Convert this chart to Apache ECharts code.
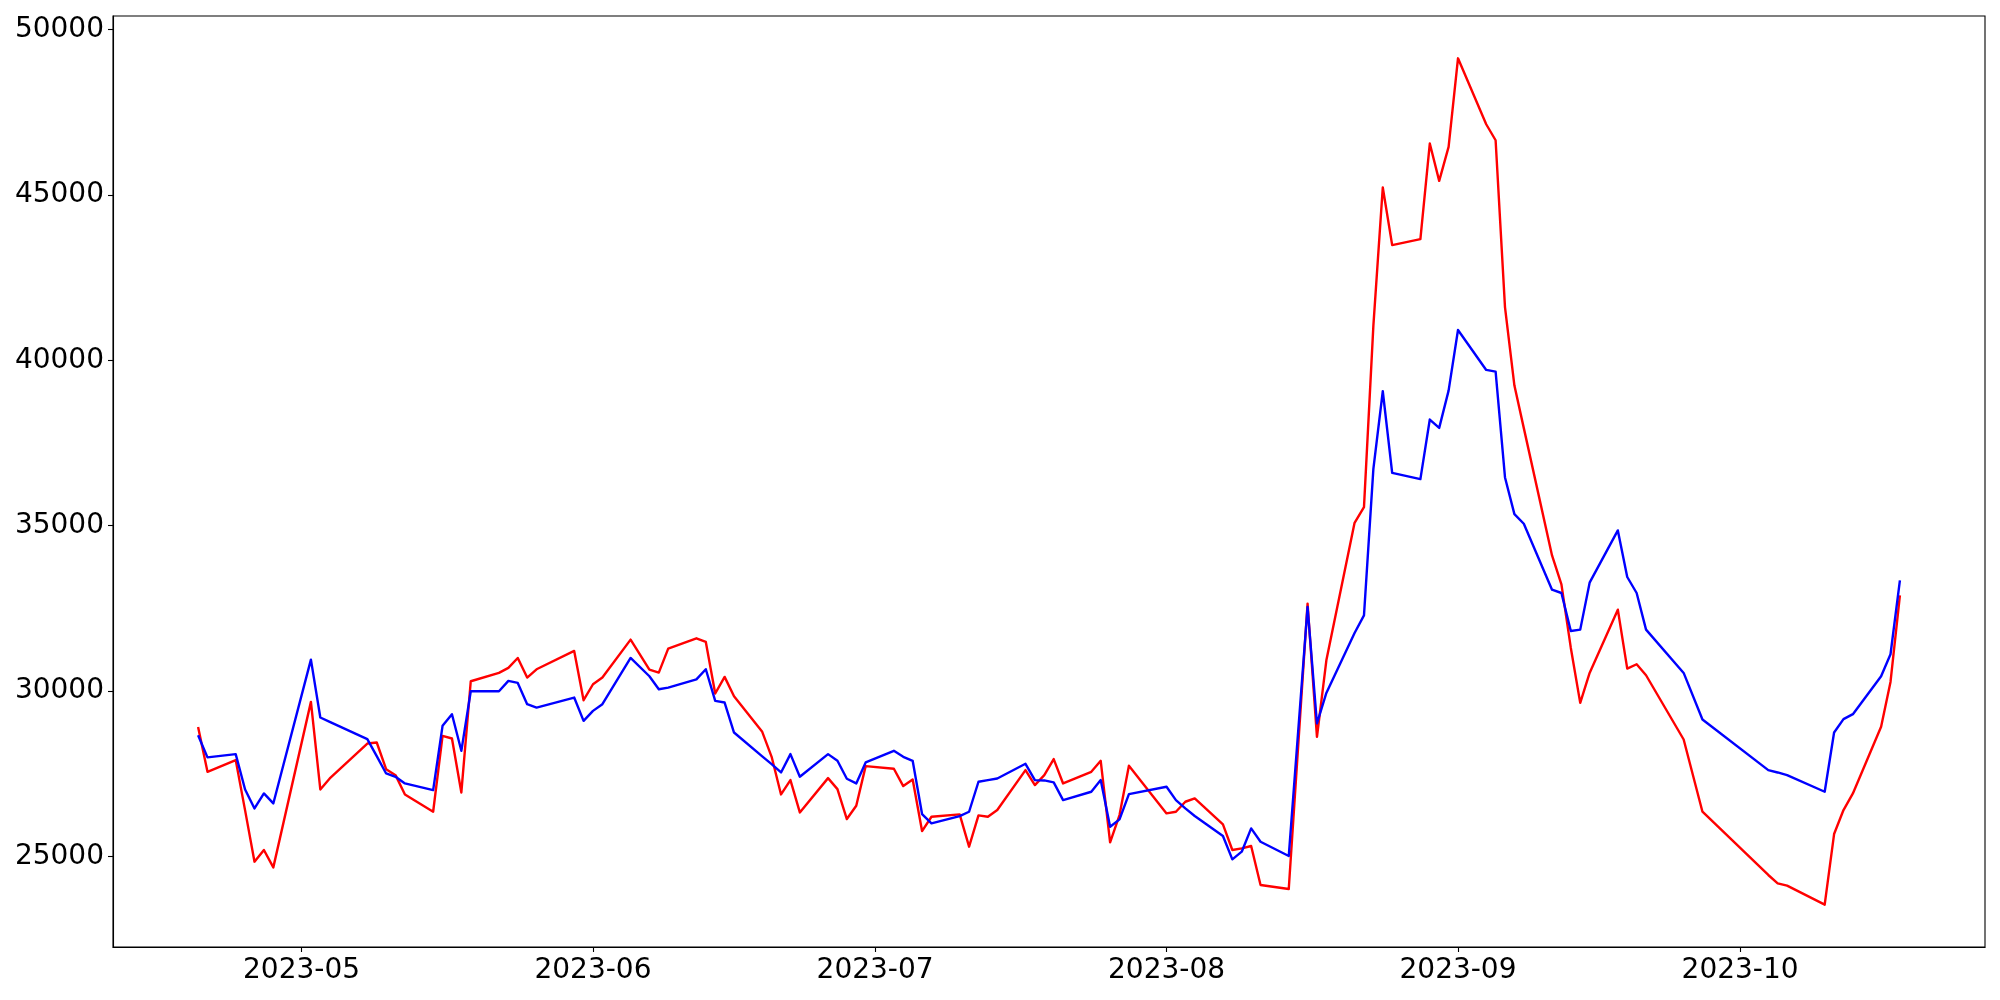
<!DOCTYPE html>
<html>
<head>
<meta charset="utf-8">
<script src="https://cdn.jsdelivr.net/npm/echarts@6/dist/echarts.min.js"></script>
<style>
html,body{margin:0;padding:0;background:#fff;}
#chart{width:2000px;height:1000px;}
</style>
</head>
<body>
<div id="chart"></div>
<script>
const dates = [
'2023-04-20','2023-04-21','2023-04-24','2023-04-25','2023-04-26','2023-04-27','2023-04-28',
'2023-05-02','2023-05-03','2023-05-04','2023-05-08','2023-05-09','2023-05-10','2023-05-11','2023-05-12',
'2023-05-15','2023-05-16','2023-05-17','2023-05-18','2023-05-19','2023-05-22','2023-05-23','2023-05-24',
'2023-05-25','2023-05-26','2023-05-30','2023-05-31',
'2023-06-01','2023-06-02','2023-06-05','2023-06-07','2023-06-08','2023-06-09','2023-06-12','2023-06-13',
'2023-06-14','2023-06-15','2023-06-16','2023-06-19','2023-06-20','2023-06-21','2023-06-22','2023-06-23',
'2023-06-26','2023-06-27','2023-06-28','2023-06-29','2023-06-30',
'2023-07-03','2023-07-04','2023-07-05','2023-07-06','2023-07-07','2023-07-10','2023-07-11','2023-07-12',
'2023-07-13','2023-07-14','2023-07-17','2023-07-18','2023-07-19','2023-07-20','2023-07-21','2023-07-24',
'2023-07-25','2023-07-26','2023-07-27','2023-07-28',
'2023-08-01','2023-08-02','2023-08-03','2023-08-04','2023-08-07','2023-08-08','2023-08-09','2023-08-10',
'2023-08-11','2023-08-14','2023-08-16','2023-08-17','2023-08-18','2023-08-21','2023-08-22','2023-08-23',
'2023-08-24','2023-08-25','2023-08-28','2023-08-29','2023-08-30','2023-08-31',
'2023-09-01','2023-09-04','2023-09-05','2023-09-06','2023-09-07','2023-09-08','2023-09-11','2023-09-12',
'2023-09-13','2023-09-14','2023-09-15','2023-09-18','2023-09-19','2023-09-20','2023-09-21','2023-09-25',
'2023-09-27',
'2023-10-04','2023-10-05','2023-10-06','2023-10-10','2023-10-11','2023-10-12','2023-10-13','2023-10-16',
'2023-10-17','2023-10-18'
];

const redValues = [
28920,27565,27917,26400,24849,25201,24677,
29678,27032,27364,28420,28450,27645,27464,26881,
26358,28651,28571,26941,30301,30553,30704,31005,
30412,30663,31217,29728,
30211,30412,31559,30654,30563,31287,31600,31489,
29930,30433,29849,28773,28018,26881,27314,26338,
27374,27042,26137,26539,27737,
27656,27133,27334,25775,26207,26278,25302,26248,
26207,26409,27616,27163,27465,27948,27213,27566,
27897,25433,26258,27747,
26308,26358,26660,26761,25976,25201,25252,25322,
24145,24024,32646,28622,30935,35090,35563,41046,
45221,43480,43661,46549,45422,46448,
49124,47132,46649,41599,39235,37950,34104,33229,
31308,29648,30553,32465,30684,30815,30483,28541,
26359,
24447,24195,24125,23550,25684,26409,26912,28924,
30282,32897
];

const blueValues = [
28670,28000,28098,27032,26458,26911,26609,
30955,29205,29074,28551,28038,27515,27414,27213,
27012,28953,29305,28199,29999,29999,30311,30251,
29607,29506,29808,29104,
29406,29607,31005,30452,30060,30110,30357,30664,
29708,29658,28752,28033,27797,27545,28099,27415,
28099,27897,27354,27213,27847,
28199,28018,27897,26288,26006,26228,26358,27264,
27314,27364,27807,27314,27304,27244,26710,26962,
27314,25906,26127,26891,
27113,26710,26459,26228,25624,24919,25151,25855,
25453,25020,32545,29024,29949,31760,32293,36720,
39064,36599,36408,38209,37957,39084,
40915,39708,39657,36460,35350,35060,33068,32968,
31821,31861,33280,34859,33451,32968,31861,30553,
29145,
27616,27545,27465,26962,28753,29155,29306,30453,
31117,33350
];

const yTickValues = [25000, 30000, 35000, 40000, 45000, 50000];
const xTickLabels = ['2023-05','2023-06','2023-07','2023-08','2023-09','2023-10'];

function toTime(s) {
  const p = s.split('-').map(Number);
  return Date.UTC(p[0], p[1] - 1, p[2] || 1);
}
const xTickValues = xTickLabels.map(toTime);

const redData = dates.map((d, i) => [toTime(d), redValues[i]]);
const blueData = dates.map((d, i) => [toTime(d), blueValues[i]]);

const xMin = Date.UTC(2023, 3, 10, 22, 48);
const xMax = Date.UTC(2023, 9, 27, 1, 12);

const font = 'DejaVu Sans';
const chart = echarts.init(document.getElementById('chart'), null, {renderer: 'canvas'});
chart.setOption({
  animation: false,
  backgroundColor: '#ffffff',
  grid: {
    left: 113, right: 15, top: 16, bottom: 53,
    show: true, borderColor: '#000', borderWidth: 1.1, backgroundColor: 'transparent'
  },
  xAxis: {
    type: 'value',
    min: xMin,
    max: xMax,
    axisLine: {show: true, lineStyle: {color: '#000', width: 1.1}},
    axisTick: {show: true, length: 5, lineStyle: {color: '#000', width: 1.1}, customValues: xTickValues},
    axisLabel: {
      show: true, color: '#000', fontSize: 28, fontFamily: font, margin: 10,
      customValues: xTickValues,
      formatter: function (v) {
        const d = new Date(v);
        const m = d.getUTCMonth() + 1;
        return d.getUTCFullYear() + '-' + (m < 10 ? '0' + m : m);
      }
    },
    splitLine: {show: false}
  },
  yAxis: {
    type: 'value',
    min: 22271,
    max: 50403,
    axisLine: {show: true, lineStyle: {color: '#000', width: 1.1}},
    axisTick: {show: true, length: 5, lineStyle: {color: '#000', width: 1.1}, customValues: yTickValues},
    axisLabel: {
      show: true, color: '#000', fontSize: 28, fontFamily: font, margin: 9,
      customValues: yTickValues,
      formatter: function (v) { return String(v); }
    },
    splitLine: {show: false}
  },
  series: [
    {
      name: 'red', type: 'line', data: redData, showSymbol: false, symbol: 'none',
      lineStyle: {color: '#ff0000', width: 2.4, join: 'round', cap: 'butt'}, itemStyle: {color: '#ff0000'}, z: 2
    },
    {
      name: 'blue', type: 'line', data: blueData, showSymbol: false, symbol: 'none',
      lineStyle: {color: '#0000ff', width: 2.4, join: 'round', cap: 'butt'}, itemStyle: {color: '#0000ff'}, z: 3
    }
  ]
});
</script>
</body>
</html>
